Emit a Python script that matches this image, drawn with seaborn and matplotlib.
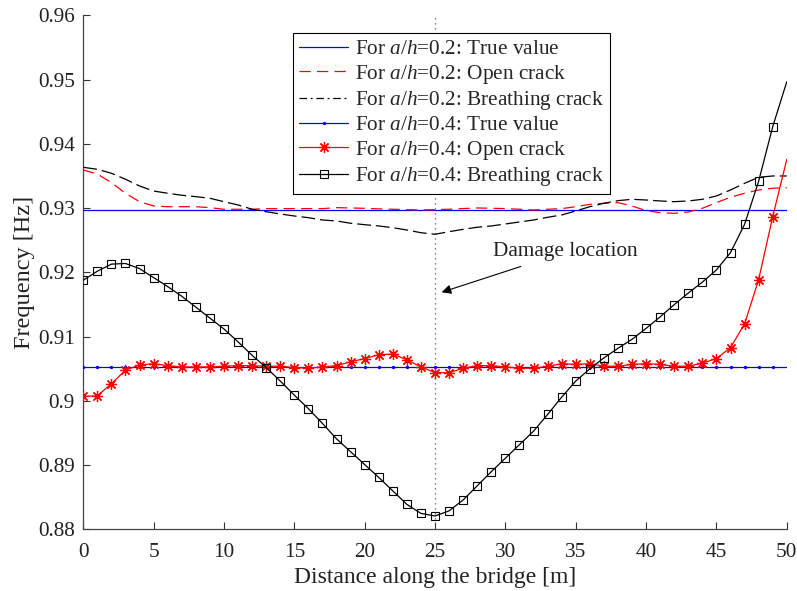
import numpy as np
import pandas as pd
import matplotlib
matplotlib.use("Agg")
import matplotlib.pyplot as plt
from matplotlib.lines import Line2D
import seaborn as sns

# ---------------- data ----------------
distance = list(range(0, 51))

true_02 = [0.9297] * 51
open_02 = [0.93595, 0.93533, 0.93398, 0.93233, 0.93102, 0.93035, 0.93024, 0.93024, 0.93024, 0.93009,
           0.92984, 0.92984, 0.92984, 0.92994, 0.92994, 0.92994, 0.92994, 0.92994, 0.93009, 0.93004,
           0.92999, 0.92990, 0.92984, 0.92978, 0.92973, 0.92978, 0.92984, 0.92995, 0.93004, 0.93000,
           0.92994, 0.92984, 0.92973, 0.92984, 0.92994, 0.93024, 0.93061, 0.93077, 0.93087, 0.93035,
           0.92962, 0.92931, 0.92921, 0.92942, 0.92999, 0.93087, 0.93171, 0.93233, 0.93284, 0.93311,
           0.93320]
breath_02 = [0.93637, 0.93606, 0.93544, 0.93451, 0.93346, 0.93268, 0.93233, 0.93202, 0.93180, 0.93155,
             0.93102, 0.93051, 0.92984, 0.92946, 0.92911, 0.92879, 0.92853, 0.92817, 0.92802, 0.92766,
             0.92744, 0.92724, 0.92697, 0.92661, 0.92619, 0.92595, 0.92635, 0.92672, 0.92704, 0.92724,
             0.92755, 0.92786, 0.92817, 0.92859, 0.92895, 0.92957, 0.93024, 0.93077, 0.93118, 0.93139,
             0.93128, 0.93113, 0.93102, 0.93113, 0.93139, 0.93191, 0.93284, 0.93388, 0.93482, 0.93502,
             0.93502]

true_04 = [0.9053] * 51
open_04 = [0.9007, 0.9008, 0.9027, 0.9048, 0.9056, 0.9058, 0.9055, 0.9053, 0.9053, 0.9053,
           0.9054, 0.9055, 0.9055, 0.9054, 0.9054, 0.9052, 0.9051, 0.9053, 0.9055, 0.9061,
           0.9066, 0.9072, 0.9073, 0.9064, 0.9053, 0.9044, 0.9044, 0.9051, 0.9055, 0.9055,
           0.9053, 0.9051, 0.9051, 0.9054, 0.9058, 0.9057, 0.9058, 0.9054, 0.9054, 0.9057,
           0.9058, 0.9057, 0.9054, 0.9054, 0.9059, 0.9066, 0.9083, 0.9120, 0.9189, 0.9287,
           0.9376]
breath_04 = [0.9188, 0.9202, 0.9213, 0.9214, 0.9206, 0.9192, 0.9178, 0.9163, 0.9146, 0.9129,
             0.9112, 0.9092, 0.9071, 0.9052, 0.9031, 0.9009, 0.8988, 0.8965, 0.8941, 0.8921,
             0.8901, 0.8881, 0.8860, 0.8839, 0.8825, 0.8821, 0.8829, 0.8846, 0.8868, 0.8890,
             0.8911, 0.8932, 0.8953, 0.8979, 0.9006, 0.9031, 0.9050, 0.9067, 0.9082, 0.9096,
             0.9113, 0.9131, 0.9150, 0.9168, 0.9185, 0.9204, 0.9231, 0.9275, 0.9342, 0.9427,
             0.9497]

series_labels = [
    "For $a$/$h$=0.2: True value",
    "For $a$/$h$=0.2: Open crack",
    "For $a$/$h$=0.2: Breathing crack",
    "For $a$/$h$=0.4: True value",
    "For $a$/$h$=0.4: Open crack",
    "For $a$/$h$=0.4: Breathing crack",
]
x_ticks = [0, 5, 10, 15, 20, 25, 30, 35, 40, 45, 50]
y_ticks = [0.88, 0.89, 0.90, 0.91, 0.92, 0.93, 0.94, 0.95, 0.96]
y_tick_labels = ["0.88", "0.89", "0.9", "0.91", "0.92", "0.93", "0.94", "0.95", "0.96"]
damage_x = 25
annot_text = "Damage location"

# ---------------- style ----------------
sns.set_theme(style="ticks")
plt.rcParams["font.family"] = ["Liberation Serif", "DejaVu Serif"]
plt.rcParams["mathtext.fontset"] = "custom"
plt.rcParams["mathtext.rm"] = "Liberation Serif"
plt.rcParams["mathtext.it"] = "Liberation Serif:italic"
plt.rcParams["xtick.direction"] = "in"
plt.rcParams["ytick.direction"] = "in"

fig = plt.figure(figsize=(7.97, 5.91), dpi=100)
ax = fig.add_axes([0.1045, 0.1041, 0.8827, 0.8697])

fs = 15.3
mk_every = slice(0, 50)
star = (8, 2, 0)

ax.axvline(damage_x, color="#555555", linestyle=(0, (1, 3)), linewidth=0.9, zorder=1)

sns.lineplot(x=distance, y=true_02, ax=ax, color="#0000ff", linewidth=0.9, zorder=3)
sns.lineplot(x=distance, y=open_02, ax=ax, color="#ff0000", linewidth=0.9, zorder=3)
sns.lineplot(x=distance, y=breath_02, ax=ax, color="black", linewidth=0.9, zorder=3)
sns.lineplot(x=distance, y=true_04, ax=ax, color="#0000ff", linewidth=0.9,
             marker="o", markersize=2.4, markevery=mk_every, markeredgewidth=0, zorder=3)
sns.lineplot(x=distance, y=open_04, ax=ax, color="#ff0000", linewidth=0.9,
             marker=star, markersize=8, markevery=mk_every, markeredgewidth=0.9,
             markeredgecolor="#ff0000", zorder=4)
sns.lineplot(x=distance, y=breath_04, ax=ax, color="black", linewidth=0.9,
             marker="s", markersize=6, markevery=mk_every, markerfacecolor="none",
             markeredgecolor="black", markeredgewidth=0.8, zorder=4)

lines = ax.get_lines()[1:]
lines[1].set_dashes((9, 5))
lines[2].set_dashes((11, 4))

ax.set_xlim(0, 50)
ax.set_ylim(0.88, 0.96)
ax.set_xticks(x_ticks)
ax.set_xticklabels([str(t) for t in x_ticks], fontsize=fs)
ax.set_yticks(y_ticks)
ax.set_yticklabels(y_tick_labels, fontsize=fs)
ax.tick_params(length=5, width=0.8, color="#333333", labelcolor="#222222")
ax.tick_params(axis="x", pad=10)
ax.tick_params(axis="y", pad=6)
sns.despine(ax=ax)
for s in ["left", "bottom"]:
    ax.spines[s].set_color("#444444")
    ax.spines[s].set_linewidth(0.9)

ax.set_xlabel("Distance along the bridge [m]", fontsize=17, color="#222222", labelpad=3)
ax.set_ylabel("Frequency [Hz]", fontsize=17.5, color="#222222", labelpad=2)

ax.annotate(annot_text, xy=(25.47, 0.91692), xytext=(29.12, 0.92319),
            fontsize=fs, color="#222222", va="center", ha="left",
            arrowprops=dict(arrowstyle="-|>", color="black", lw=0.8,
                            mutation_scale=14, shrinkA=4, shrinkB=0))

handles = [
    Line2D([], [], color="#0000ff", lw=0.9),
    Line2D([], [], color="#ff0000", lw=0.9, dashes=(9, 5)),
    Line2D([], [], color="black", lw=0.9, dashes=(6, 3, 1.5, 3)),
    Line2D([], [], color="#0000ff", lw=0.9, marker="o", markersize=2.4, markeredgewidth=0),
    Line2D([], [], color="#ff0000", lw=0.9, marker=star, markersize=8, markeredgewidth=0.9),
    Line2D([], [], color="black", lw=0.9, marker="s", markersize=6,
           markerfacecolor="none", markeredgewidth=0.8),
]
leg = ax.legend(handles, series_labels, loc="upper left", bbox_to_anchor=(0.298, 0.966),
                fontsize=fs, frameon=True, fancybox=False, framealpha=1, edgecolor="black",
                handlelength=2.3, handletextpad=0.3, labelspacing=0.16,
                borderpad=0.3, borderaxespad=0, numpoints=1)
leg.get_frame().set_linewidth(0.8)
leg.set_zorder(10)

fig.savefig("out.png", dpi=100)
